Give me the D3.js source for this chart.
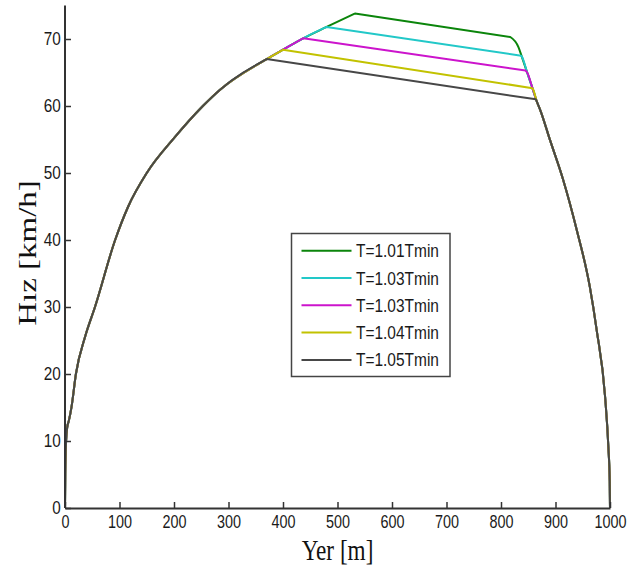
<!DOCTYPE html>
<html>
<head>
<meta charset="utf-8">
<script src="https://cdn.jsdelivr.net/npm/d3@7"></script>
<style>
  html, body { margin: 0; padding: 0; background: #fff; }
  svg { display: block; }
</style>
</head>
<body>
<svg id="chart" width="639" height="570"></svg>
<script>
// Shared acceleration phase (position in m, speed in km/h)
const accelX = [0, 0.5, 2, 4, 7, 12, 20, 37, 55, 92, 116, 150, 200, 253, 284, 370, 400, 437, 480, 532];
const accelV = [0, 5, 10, 12, 13, 15.1, 20, 25.6, 30, 40, 45, 50, 55.2, 60, 62.4, 67.0, 68.4, 70.1, 71.8, 73.8];

// Shared braking phase
const decelX = [832, 838, 848, 858, 866, 872, 890, 914, 939, 963, 975.5, 991, 997, 999.5, 1000];
const decelV = [68.8, 67.4, 65.0, 62.6, 60.6, 59.4, 54.9, 49.0, 41.5, 33.0, 26.6, 16.6, 9.1, 4, 0];

// Coasting segment of each run: start (end of traction) and end (start of braking)
const seriesNames = ["T=1.01Tmin", "T=1.03Tmin", "T=1.03Tmin", "T=1.04Tmin", "T=1.05Tmin"];
const seriesColors = ["#0b850b", "#22c8c8", "#cc14cc", "#c2c200", "#474747"];
const coastStartX = [532, 480, 437, 400, 370];
const coastStartV = [73.8, 71.8, 70.1, 68.4, 67.0];
const coastEndX = [817, 837, 845, 855, 864];
const coastEndV = [70.3, 67.5, 65.3, 62.7, 61.0];

const xTicks = [0, 100, 200, 300, 400, 500, 600, 700, 800, 900, 1000];
const yTicks = [0, 10, 20, 30, 40, 50, 60, 70];

const svg = d3.select("#chart");
const plotLeft = 65, plotRight = 610, plotTop = 5.5, plotBottom = 508;

const x = d3.scaleLinear().domain([0, 1000]).range([plotLeft, plotRight]);
const y = d3.scaleLinear().domain([0, 75]).range([plotBottom, plotTop]);

// Each run: traction up to its coasting point, straight coasting, then braking
const runs = seriesNames.map((name, i) => {
  const accel = [];
  accelX.forEach((xv, j) => { if (xv < coastStartX[i]) accel.push([xv, accelV[j]]); });
  accel.push([coastStartX[i], coastStartV[i]]);
  const coast = [[coastStartX[i], coastStartV[i]], [coastEndX[i], coastEndV[i]]];
  const brake = [[coastEndX[i], coastEndV[i]]];
  decelX.forEach((xv, j) => { if (xv > coastEndX[i]) brake.push([xv, decelV[j]]); });
  return { name, color: seriesColors[i], accel, coast, brake };
});

const smooth = d3.line().x(d => x(d[0])).y(d => y(d[1])).curve(d3.curveMonotoneX);
const straight = d3.line().x(d => x(d[0])).y(d => y(d[1]));

const runPath = r =>
  smooth(r.accel) +
  straight(r.coast).replace(/^M/, "L") +
  smooth(r.brake).replace(/^M/, "L");

svg.append("g")
  .selectAll("path")
  .data(runs)
  .join("path")
  .attr("fill", "none")
  .attr("stroke", d => d.color)
  .attr("stroke-width", 2)
  .attr("stroke-linejoin", "round")
  .attr("d", runPath);

// Axes with inward ticks
const axisColor = "#333";
const tickFont = "Liberation Sans, Arial, sans-serif";

const gx = svg.append("g").attr("transform", `translate(0,${plotBottom})`)
  .call(d3.axisBottom(x).tickValues(xTicks).tickFormat(d3.format("d"))
    .tickSize(-6).tickSizeOuter(0).tickPadding(7));
const gy = svg.append("g").attr("transform", `translate(${plotLeft},0)`)
  .call(d3.axisLeft(y).tickValues(yTicks).tickFormat(d3.format("d"))
    .tickSize(-6).tickSizeOuter(0).tickPadding(5));

[gx, gy].forEach(g => {
  g.select(".domain").attr("stroke", axisColor).attr("stroke-width", 2);
  g.selectAll(".tick line").attr("stroke", axisColor).attr("stroke-width", 1.5);
  g.selectAll(".tick text")
    .attr("fill", "#1a1a1a")
    .style("font-family", tickFont)
    .style("font-size", "18px");
});
gx.selectAll(".tick text").attr("transform", "scale(0.8,1)");
gy.selectAll(".tick text").attr("transform", "scale(0.85,1)");
// extend y axis line to the top of the range
gy.select(".domain").attr("d", `M0,${plotBottom}V${plotTop}`);

// Axis titles
svg.append("text")
  .attr("transform", `translate(${(plotLeft + plotRight) / 2},560) scale(0.8,1)`)
  .attr("text-anchor", "middle")
  .style("font-family", "Liberation Serif, Times New Roman, serif")
  .style("font-size", "29px")
  .attr("fill", "#111")
  .text("Yer [m]");

svg.append("text")
  .attr("transform", `translate(36,253) scale(0.78,1) rotate(-90)`)
  .attr("text-anchor", "middle")
  .style("font-family", "Liberation Serif, Times New Roman, serif")
  .style("font-size", "33px")
  .attr("fill", "#111")
  .text("Hız [km/h]");

// Legend
const lg = svg.append("g");
lg.append("rect")
  .attr("x", 291.5).attr("y", 233.5).attr("width", 158.5).attr("height", 143)
  .attr("fill", "#fff").attr("stroke", "#444").attr("stroke-width", 1.5);
runs.forEach((r, i) => {
  const ly = 250.7 + i * 27.3;
  lg.append("line")
    .attr("x1", 301.5).attr("x2", 351.5).attr("y1", ly).attr("y2", ly)
    .attr("stroke", r.color).attr("stroke-width", 2);
  lg.append("text")
    .attr("transform", `translate(356,${ly + 6.5}) scale(0.86,1)`)
    .style("font-family", tickFont)
    .style("font-size", "18px")
    .attr("fill", "#1a1a1a")
    .text(r.name);
});
</script>
</body>
</html>
